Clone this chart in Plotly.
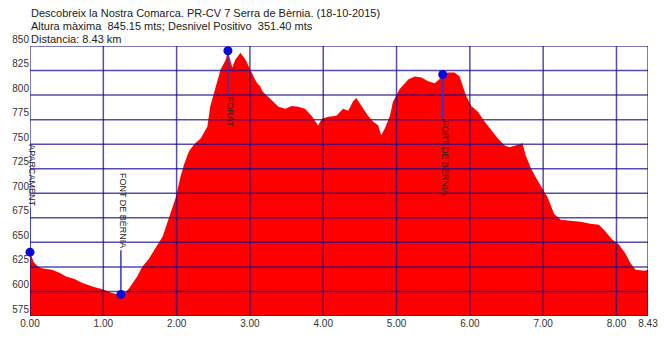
import plotly.graph_objects as go

# ---- data ----
km = [0.00, 0.03, 0.05, 0.10, 0.15, 0.20, 0.30, 0.40, 0.50, 0.60, 0.70, 0.85, 1.00, 1.10, 1.20, 1.24,
      1.30, 1.35, 1.46, 1.53, 1.62, 1.71, 1.81, 1.90, 1.99, 2.05, 2.10, 2.17, 2.24, 2.33, 2.42, 2.46,
      2.53, 2.60, 2.67, 2.70, 2.73, 2.76, 2.80, 2.87, 2.94, 3.00, 3.04, 3.07, 3.10, 3.14, 3.17, 3.21,
      3.25, 3.30, 3.39, 3.48, 3.57, 3.66, 3.75, 3.84, 3.93, 3.98, 4.07, 4.18, 4.27, 4.34, 4.41, 4.45,
      4.52, 4.61, 4.68, 4.75, 4.79, 4.84, 4.91, 4.95, 5.04, 5.16, 5.25, 5.34, 5.43, 5.52, 5.58, 5.63,
      5.70, 5.79, 5.86, 5.90, 5.95, 6.02, 6.11, 6.20, 6.29, 6.38, 6.47, 6.54, 6.63, 6.72, 6.76, 6.83,
      6.90, 6.97, 7.06, 7.15, 7.24, 7.37, 7.51, 7.64, 7.76, 7.85, 7.94, 8.03, 8.12, 8.19, 8.26, 8.38, 8.43]
elev = [640, 633, 630, 626, 624, 623, 622, 619, 615, 613, 609, 605, 602, 599, 597, 597,
        599, 603, 615, 625, 633, 644, 656, 676, 696, 716, 729, 743, 750, 756, 768, 789,
        809, 826, 836, 845, 836, 828, 836, 843, 836, 826, 820, 816, 812, 809, 804, 801,
        798, 794, 788, 786, 789, 788, 786, 779, 769, 776, 778, 779, 786, 784, 794, 797,
        789, 779, 773, 769, 759, 766, 779, 793, 806, 816, 819, 818, 814, 812, 816, 821,
        823, 823, 819, 809, 799, 789, 783, 773, 764, 756, 749, 747, 749, 751, 739, 726,
        716, 707, 696, 679, 673, 672, 671, 669, 668, 661, 653, 648, 639, 629, 622, 621, 622]

wp_names = ["APARCAMENT", "FONT DE BÈRNIA", "FORAT", "FORT DE BÈRNIA"]
wp_km = [0.00, 1.24, 2.70, 5.63]
wp_elev = [640, 597, 845.15, 821]
wp_label_up = [True, True, False, False]

x_ticks = [0, 1, 2, 3, 4, 5, 6, 7, 8, 8.43]
x_tick_labels = ["0.00", "1.00", "2.00", "3.00", "4.00", "5.00", "6.00", "7.00", "8.00", "8.43"]
y_ticks = [575, 600, 625, 650, 675, 700, 725, 750, 775, 800, 825, 850]

title_lines = [
    "Descobreix la Nostra Comarca. PR-CV 7 Serra de Bèrnia. (18-10-2015)",
    "Altura màxima  845.15 mts; Desnivel Positivo  351.40 mts",
    "Distancia: 8.43 km",
]

X_MIN, X_MAX = 0, 8.43
Y_MIN, Y_MAX = 575, 850
W, H = 670, 341
M_L, M_R, M_T, M_B = 27, 22, 46, 20
PLOT_H = H - M_T - M_B
LEADER_PX = 45
leader = LEADER_PX * (Y_MAX - Y_MIN) / PLOT_H

GRID = "rgba(20,10,140,0.72)"
FONT = "Liberation Sans, Arial, sans-serif"

fig = go.Figure()

# elevation profile
fig.add_trace(go.Scatter(x=km, y=elev, mode="lines", fill="tozeroy",
                         fillcolor="#ff0000", line=dict(width=0, color="#ff0000"),
                         hoverinfo="skip", showlegend=False))

# grid drawn on top of the fill
gx, gy = [], []
for t in x_ticks:
    gx += [t, t, None]
    gy += [Y_MIN, Y_MAX, None]
for t in y_ticks:
    gx += [X_MIN, X_MAX, None]
    gy += [t, t, None]
fig.add_trace(go.Scatter(x=gx, y=gy, mode="lines", line=dict(color=GRID, width=1.5),
                         hoverinfo="skip", showlegend=False, cliponaxis=False))

# leader lines from waypoint to its label
lx, ly = [], []
for xk, ye, up in zip(wp_km, wp_elev, wp_label_up):
    lx += [xk, xk, None]
    ly += [ye, ye + leader if up else ye - leader, None]
fig.add_trace(go.Scatter(x=lx, y=ly, mode="lines", line=dict(color="#3434c8", width=1.5),
                         hoverinfo="skip", showlegend=False, cliponaxis=False))

# waypoint markers
fig.add_trace(go.Scatter(x=wp_km, y=wp_elev, mode="markers",
                         marker=dict(color="#0808d8", size=9),
                         hoverinfo="skip", showlegend=False, cliponaxis=False))

# waypoint labels
for name, xk, ye, up in zip(wp_names, wp_km, wp_elev, wp_label_up):
    fig.add_annotation(x=xk, y=ye, text=name, textangle=90, showarrow=False,
                       xanchor="center", yanchor="bottom" if up else "top",
                       yshift=LEADER_PX if up else -LEADER_PX, xshift=2,
                       borderpad=0,
                       font=dict(family=FONT, size=9, color="#222222"))

# title lines
for i, line in enumerate(title_lines):
    fig.add_annotation(xref="paper", yref="paper", x=0, y=1, xanchor="left", yanchor="middle",
                       xshift=-1, yshift=33 - 13 * i, text=line, showarrow=False,
                       font=dict(family=FONT, size=11, color="#222222"))

fig.update_xaxes(range=[X_MIN, X_MAX], tickvals=x_ticks, ticktext=x_tick_labels,
                 showgrid=False, zeroline=False, showline=False, ticks="",
                 tickfont=dict(family=FONT, size=10, color="#333333"))
fig.update_yaxes(range=[Y_MIN, Y_MAX], tickvals=y_ticks, showgrid=False, zeroline=False,
                 showline=False, ticks="", ticklabelposition="outside top",
                 tickfont=dict(family=FONT, size=10, color="#333333"))

fig.update_layout(width=W, height=H, margin=dict(l=M_L, r=M_R, t=M_T, b=M_B),
                  plot_bgcolor="white", paper_bgcolor="white", showlegend=False)

fig.write_html("out.html")
